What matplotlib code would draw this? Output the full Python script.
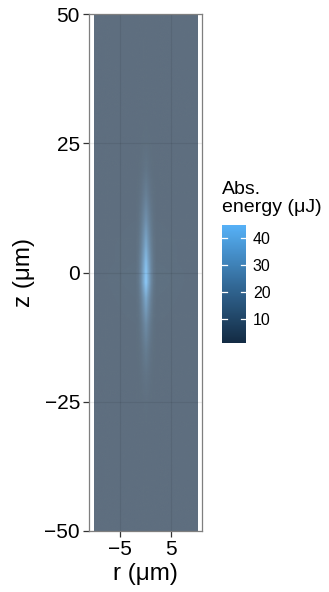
import matplotlib
matplotlib.use("Agg")
import matplotlib.pyplot as plt
import numpy as np
from matplotlib.colors import LinearSegmentedColormap, ListedColormap, Normalize
from matplotlib.cm import ScalarMappable
from matplotlib.image import NonUniformImage
from matplotlib.patches import Rectangle

plt.rcParams['font.family'] = ['Liberation Sans', 'DejaVu Sans']

# radial positions (um) and axial positions (um) of the sampled grid
r_um = [-10, -2, -1.5, -1, -0.5, 0, 0.5, 1, 1.5, 2, 10]
z_um = [-50, -30, -25, -20, -15, -10, -5, -2, 0, 2, 5, 10, 15, 20, 25, 30, 50]

# absorbed energy (uJ), one row per z value, columns follow r_um
energy = [
    [1.1, 1.1, 1.1, 1.1, 1.1, 1.1, 1.1, 1.1, 1.1, 1.1, 1.1],
    [1.1, 1.1, 1.12, 1.16, 1.23, 1.3, 1.23, 1.16, 1.12, 1.1, 1.1],
    [1.1, 1.13, 1.19, 1.37, 1.69, 2.0, 1.69, 1.37, 1.19, 1.13, 1.1],
    [1.1, 1.19, 1.39, 1.97, 2.99, 4.0, 2.99, 1.97, 1.39, 1.19, 1.1],
    [1.1, 1.32, 1.84, 3.32, 5.91, 8.5, 5.91, 3.32, 1.84, 1.32, 1.1],
    [1.1, 1.55, 2.59, 5.57, 10.79, 16.0, 10.79, 5.57, 2.59, 1.55, 1.1],
    [1.1, 1.97, 3.99, 9.77, 19.89, 30.0, 19.89, 9.77, 3.99, 1.97, 1.1],
    [1.1, 2.41, 5.48, 14.24, 29.57, 44.9, 29.57, 14.24, 5.48, 2.41, 1.1],
    [1.1, 2.37, 5.34, 13.82, 28.66, 43.5, 28.66, 13.82, 5.34, 2.37, 1.1],
    [1.1, 2.24, 4.89, 12.47, 25.74, 39.0, 25.74, 12.47, 4.89, 2.24, 1.1],
    [1.1, 2.0, 4.09, 10.07, 20.54, 31.0, 20.54, 10.07, 4.09, 2.0, 1.1],
    [1.1, 1.64, 2.89, 6.47, 12.74, 19.0, 12.74, 6.47, 2.89, 1.64, 1.1],
    [1.1, 1.37, 1.99, 3.77, 6.89, 10.0, 6.89, 3.77, 1.99, 1.37, 1.1],
    [1.1, 1.2, 1.44, 2.12, 3.31, 4.5, 3.31, 2.12, 1.44, 1.2, 1.1],
    [1.1, 1.13, 1.21, 1.43, 1.82, 2.2, 1.82, 1.43, 1.21, 1.13, 1.1],
    [1.1, 1.1, 1.12, 1.16, 1.23, 1.3, 1.23, 1.16, 1.12, 1.1, 1.1],
    [1.1, 1.1, 1.1, 1.1, 1.1, 1.1, 1.1, 1.1, 1.1, 1.1, 1.1],
]

x_ticks = [-5, 5]
y_ticks = [-50, -25, 0, 25, 50]
cbar_ticks = [10, 20, 30, 40]
e_min, e_max = 1.1, 44.9

W, H = 329, 592
fig = plt.figure(figsize=(W / 100, H / 100), dpi=100)
fig.patch.set_facecolor('white')

cmap = LinearSegmentedColormap.from_list('gg', ['#132B43', '#336A98', '#56B1F7'])
# same scale seen through 0.68 opacity over the white panel
alpha = 0.68
cmap_panel = ListedColormap(cmap(np.linspace(0, 1, 256))[:, :3] * alpha + (1 - alpha))
norm = Normalize(vmin=e_min, vmax=e_max)

ax = fig.add_axes([89 / W, 1 - 531 / H, 113 / W, 517 / H])
ax.set_facecolor('white')
ax.set_xlim(-11, 11)
ax.set_ylim(-50, 50)

for xv in x_ticks:
    ax.axvline(xv, color='#EBEBEB', lw=0.9, zorder=0.5)
for yv in y_ticks:
    ax.axhline(yv, color='#EBEBEB', lw=0.9, zorder=0.5)

im = NonUniformImage(ax, interpolation='bilinear', cmap=cmap_panel, norm=norm)
im.set_data(np.array(r_um, float), np.array(z_um, float), np.array(energy))
im.set_zorder(1)
ax.add_image(im)
im.set_clip_path(Rectangle((-10, -50), 20, 100, transform=ax.transData))

for xv in x_ticks:
    ax.plot([xv, xv], [-50, 50], color='black', alpha=0.07, lw=0.9, zorder=2)
for yv in y_ticks:
    ax.plot([-10, 10], [yv, yv], color='black', alpha=0.07, lw=0.9, zorder=2)

ax.set_xticks(x_ticks)
ax.set_yticks(y_ticks)
ax.set_xticklabels(['\u22125', '5'])
ax.set_yticklabels(['\u221250', '\u221225', '0', '25', '50'])
for s in ax.spines.values():
    s.set_color('#7F7F7F')
    s.set_linewidth(0.9)
    s.set_zorder(3)
ax.tick_params(axis='both', colors='#333333', length=4, width=0.9, labelsize=15,
               labelcolor='black', pad=2.5)

fig.text(145 / W, 1 - 574 / H, 'r (\u03bcm)', fontsize=17.5, ha='center', va='center')
fig.text(24 / W, 1 - 272.5 / H, 'z (\u03bcm)', fontsize=17.5, ha='center', va='center',
         rotation=90)

# colour bar
cax = fig.add_axes([222 / W, 1 - 343 / H, 24 / W, 118 / H])
sm = ScalarMappable(norm=norm, cmap=cmap)
cb = fig.colorbar(sm, cax=cax)
cb.outline.set_visible(False)
cb.set_ticks(cbar_ticks)
cax.tick_params(length=0, labelsize=11.5, pad=5, labelcolor='black')
tr = cax.get_yaxis_transform()
for v in cbar_ticks:
    cax.plot([0, 0.2], [v, v], color='white', lw=0.9, transform=tr)
    cax.plot([0.8, 1.0], [v, v], color='white', lw=0.9, transform=tr)

fig.text(222 / W, 1 - 194 / H, 'Abs.', fontsize=14, va='baseline', ha='left')
fig.text(222 / W, 1 - 212.5 / H, 'energy (\u03bcJ)', fontsize=14, va='baseline', ha='left')

fig.savefig('out.png', dpi=100, facecolor='white')
